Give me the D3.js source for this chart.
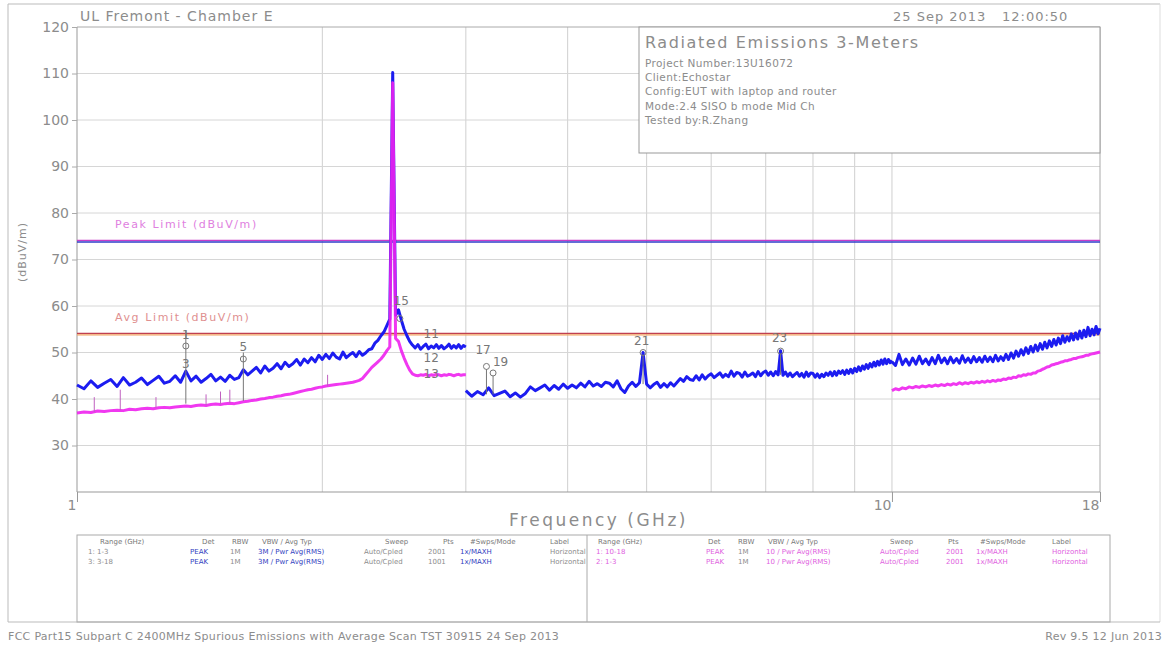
<!DOCTYPE html>
<html><head><meta charset="utf-8">
<script src="https://cdn.jsdelivr.net/npm/d3@7"></script>
<style>
body{margin:0;background:#fff;}
svg text{font-family:"DejaVu Sans",sans-serif;}
</style></head><body>
<svg id="c" width="1167" height="647"></svg>
<script>
// ---------------- data ----------------
const yTicks = [30,40,50,60,70,80,90,100,110,120];
const xTicks = [1,10,18];
const xGrid = [2,3,4,5,6,7,8,9,10];
const peakLimit = 74, avgLimit = 54;

// sweep 1: 1-3 GHz, 0.02 GHz per point
const seg1Start = 1.0, seg1Step = 0.02;
const peak1 = [
43.0,42.2,43.9,42.5,43.4,44.2,42.7,44.6,43.0,43.6,
44.5,43.1,44.0,44.9,43.4,43.8,45.0,43.6,46.0,43.9,
44.9,43.6,44.4,45.3,43.9,44.7,43.8,45.1,44.2,44.6,
46.3,45.2,46.0,46.8,45.6,47.1,46.0,46.6,47.6,46.5,
47.9,47.0,47.6,48.5,47.3,48.6,47.8,48.9,48.0,49.4,
48.5,49.6,48.7,49.9,49.0,48.6,50.1,48.9,49.5,50.0,
49.1,50.2,49.4,49.9,50.6,50.8,52.0,52.6,53.6,54.4,
55.8,57.2,110.2,58.0,59.2,57.0,55.0,53.6,52.4,51.6,
51.0,51.7,50.7,51.3,51.8,50.8,51.4,51.0,51.7,50.9,
51.5,50.8,51.2,51.8,50.9,51.5,51.0,51.7,50.9,51.5,
51.2];
const avg1 = [
37.0,37.2,37.1,37.4,37.3,37.5,37.6,37.5,37.8,37.7,
37.9,38.0,37.9,38.1,38.2,38.1,38.3,38.4,38.5,38.4,
38.6,38.7,38.6,38.8,38.9,38.8,39.0,39.1,39.0,39.2,
39.4,39.5,39.7,39.8,40.0,40.1,40.3,40.4,40.6,40.7,
40.9,41.0,41.2,41.4,41.6,41.8,42.0,42.1,42.3,42.5,
42.6,42.8,42.9,43.0,43.1,43.2,43.3,43.4,43.5,43.6,
43.8,44.0,44.4,45.2,46.0,46.8,47.4,48.0,48.6,49.4,
50.4,51.2,108.0,53.0,52.4,50.4,48.8,47.4,46.2,45.4,
45.1,45.0,45.2,45.1,45.3,45.0,45.2,45.1,45.3,45.2,
45.0,45.2,45.1,45.3,45.2,45.0,45.2,45.3,45.1,45.2,
45.2];

// sweep 2: 3-10 GHz, 0.05 GHz per point
const seg2Start = 3.0, seg2Step = 0.05;
const peak2 = [
41.8,40.6,41.6,40.9,42.4,40.7,41.2,41.7,40.5,41.3,
40.4,41.2,42.6,41.8,42.4,43.0,41.9,42.9,42.1,43.2,
42.3,43.0,42.4,43.4,42.6,43.8,42.8,43.3,42.7,43.6,
43.4,42.6,43.9,42.2,41.4,42.8,43.6,42.7,43.5,50.0,
43.2,42.4,43.1,43.6,42.5,43.3,42.6,43.5,42.8,43.6,
44.4,43.8,44.8,44.2,44.0,45.0,44.1,45.2,44.3,45.0,
45.4,44.6,45.1,45.6,44.7,45.3,44.8,46.0,44.9,45.7,
45.5,44.7,45.8,44.9,45.2,45.6,44.8,45.9,45.0,45.7,
46.0,45.1,45.8,45.0,45.9,45.2,50.4,45.1,45.8,44.9,
45.6,44.8,45.3,45.7,44.9,45.5,44.7,45.8,44.9,45.6,
45.5,44.7,45.4,44.6,45.3,44.8,45.6,45.1,45.8,45.0,
45.9,45.1,46.0,45.5,46.1,45.3,46.2,45.5,46.4,45.6,
46.6,45.9,46.9,46.1,47.1,46.4,47.4,46.6,47.6,46.9,
47.9,47.1,48.1,47.3,48.4,47.5,48.6,47.6,48.5,47.8,
48.3];

// sweep 3: 10-18 GHz, 0.1 GHz per point
const seg3Start = 10.0, seg3Step = 0.1;
const peak3 = [
48.0,47.2,49.6,47.4,48.6,47.3,48.8,47.5,49.2,47.6,
48.6,47.4,48.9,47.6,49.4,47.8,48.8,47.6,49.0,47.8,
48.7,47.7,49.3,47.9,48.8,47.8,49.1,48.0,48.9,47.9,
49.2,48.1,49.0,48.0,49.4,48.2,49.1,48.3,49.6,48.5,
49.9,48.8,50.3,49.2,50.6,49.5,51.0,49.8,51.3,50.1,
51.6,50.4,51.9,50.7,52.2,51.0,52.5,51.3,52.8,51.6,
53.1,51.9,53.6,52.2,53.4,52.5,54.0,52.7,54.2,52.9,
54.6,53.1,54.8,53.4,55.4,53.6,55.0,53.8,55.6,54.0,
55.2];
const avg3 = [
41.8,42.2,42.0,42.4,42.2,42.6,42.4,42.7,42.5,42.8,
42.6,42.9,42.7,43.0,42.8,43.1,42.9,43.2,43.0,43.3,
43.1,43.5,43.2,43.5,43.3,43.6,43.4,43.7,43.5,43.8,
43.6,43.9,43.7,44.0,43.8,44.1,44.0,44.3,44.2,44.5,
44.4,44.7,44.6,45.0,44.9,45.2,45.1,45.4,45.3,45.6,
45.6,46.0,46.1,46.4,46.6,46.9,47.0,47.3,47.4,47.6,
47.7,47.9,48.0,48.2,48.2,48.4,48.5,48.7,48.7,48.9,
49.0,49.1,49.2,49.4,49.4,49.6,49.7,49.8,49.9,50.0,
50.1];

// narrow spurs on the average trace (freq, base, top)
const avgSpikeFreq = [1.05,1.13,1.25,1.44,1.50,1.54,2.03];
const avgSpikeBase = [37.2,37.6,38.1,38.6,38.8,39.1,42.7];
const avgSpikeTop  = [40.4,42.0,40.4,41.0,41.6,42.0,45.2];

// marker labels
const markerText  = ["1","3","5","15","11","12","13","17","19","21","23"];
const markerFreq  = [1.36,1.36,1.60,2.50,2.72,2.72,2.72,3.15,3.31,4.93,7.28];
const markerLevel = [54.0,47.8,51.5,61.3,54.3,49.0,45.6,50.8,48.2,52.6,53.3];
// marker symbols
const symFreq  = [1.36,1.60,2.49,3.18,3.24,4.95,7.30];
const symLevel = [51.4,48.6,57.3,47.0,45.6,50.0,50.3];
// marker drop lines (freq, top, bottom)
const mlFreq = [1.36,1.60,3.18,3.24,4.95,7.30];
const mlTop  = [54.7,50.0,46.4,45.0,49.5,49.7];
const mlBot  = [39.0,39.6,41.0,41.0,43.2,45.2];

// texts
const headerLeft = "UL Fremont - Chamber E";
const headerDate = "25 Sep 2013";
const headerTime = "12:00:50";
const titleMain = "Radiated Emissions 3-Meters";
const titleLines = ["Project Number:13U16072","Client:Echostar","Config:EUT with laptop and router","Mode:2.4 SISO b mode Mid Ch","Tested by:R.Zhang"];
const xLabel = "Frequency (GHz)";
const yLabel = "(dBuV/m)";
const peakLimitLabel = "Peak Limit (dBuV/m)";
const avgLimitLabel = "Avg Limit (dBuV/m)";
const tableHeaders = ["Range (GHz)","Det","RBW","VBW / Avg Typ","Sweep","Pts","#Swps/Mode","Label"];
const tableLeftRows = [
  ["1: 1-3","PEAK","1M","3M / Pwr Avg(RMS)","Auto/Cpled","2001","1x/MAXH","Horizontal"],
  ["3: 3-18","PEAK","1M","3M / Pwr Avg(RMS)","Auto/Cpled","1001","1x/MAXH","Horizontal"]];
const tableRightRows = [
  ["1: 10-18","PEAK","1M","10 / Pwr Avg(RMS)","Auto/Cpled","2001","1x/MAXH","Horizontal"],
  ["2: 1-3","PEAK","1M","10 / Pwr Avg(RMS)","Auto/Cpled","2001","1x/MAXH","Horizontal"]];
const footerLeft = "FCC Part15 Subpart C 2400MHz Spurious Emissions with Average Scan TST 30915 24 Sep 2013";
const footerRight = "Rev 9.5 12 Jun 2013";

// ---------------- drawing ----------------
const svg = d3.select("#c");
const L = 77, R = 1100, T = 27, B = 492;
const x = d3.scaleLog().domain([1,18]).range([L,R]);
const y = d3.scaleLinear().domain([20,120]).range([B,T]);
const grey = "#8c8c8c";

function sweep(start, step, vals){ return vals.map((v,i)=>[start+step*i, v]); }

// outer frame
svg.append("line").attr("x1",8).attr("x2",1160).attr("y1",4).attr("y2",4).attr("stroke","#bbb");
svg.append("line").attr("x1",8).attr("x2",8).attr("y1",4).attr("y2",622).attr("stroke","#bbb");
svg.append("line").attr("x1",1160).attr("x2",1160).attr("y1",4).attr("y2",622).attr("stroke","#ddd");
svg.append("line").attr("x1",8).attr("x2",1160).attr("y1",622).attr("y2",622).attr("stroke","#bbb");

// grid
svg.append("g").selectAll("line").data(xGrid).join("line")
  .attr("x1",d=>x(d)).attr("x2",d=>x(d)).attr("y1",T).attr("y2",B)
  .attr("stroke","#cfcfcf");
svg.append("g").selectAll("line").data(yTicks.filter(d=>d<120)).join("line")
  .attr("x1",L).attr("x2",R).attr("y1",d=>y(d)).attr("y2",d=>y(d))
  .attr("stroke","#d6d6d6");
svg.append("line").attr("x1",L).attr("x2",R).attr("y1",T).attr("y2",T).attr("stroke","#aaa");
svg.append("line").attr("x1",R).attr("x2",R).attr("y1",T).attr("y2",B).attr("stroke","#aaa");

// y axis
const ya = svg.append("g").attr("transform",`translate(${L},0)`)
  .call(d3.axisLeft(y).tickValues(yTicks).tickSize(5).tickPadding(3).tickFormat(d3.format("d")));
ya.select(".domain").attr("stroke","#999").attr("d",`M0,${T}V${B}`);
ya.selectAll(".tick line").attr("stroke","#aaa");
ya.selectAll("text").attr("fill",grey).attr("font-size",14).attr("font-family","DejaVu Sans");

// x axis
const xa = svg.append("g").attr("transform",`translate(0,${B})`)
  .call(d3.axisBottom(x).tickValues(xTicks).tickSize(10).tickPadding(-2).tickFormat(d3.format("d")));
xa.select(".domain").attr("stroke","#999").attr("d",`M${L},0H${R}`);
xa.selectAll(".tick line").attr("stroke","#999");
xa.selectAll("text").attr("fill",grey).attr("font-size",14).attr("font-family","DejaVu Sans")
  .attr("text-anchor","end").attr("dx","-1");

// axis labels
svg.append("text").attr("x",(L+R)/2 + 10).attr("y",526).attr("text-anchor","middle")
  .attr("fill",grey).attr("font-size",17).attr("letter-spacing",2.5).text(xLabel);
svg.append("text").attr("transform","translate(26,252) rotate(-90)").attr("text-anchor","middle")
  .attr("fill",grey).attr("font-size",11).attr("letter-spacing",1).text(yLabel);

// header
svg.append("text").attr("x",80).attr("y",21).attr("fill",grey).attr("font-size",14).attr("letter-spacing",1).text(headerLeft);
svg.append("text").attr("x",893).attr("y",21).attr("fill",grey).attr("font-size",13).attr("letter-spacing",1).text(headerDate);
svg.append("text").attr("x",1002).attr("y",21).attr("fill",grey).attr("font-size",13).attr("letter-spacing",1).text(headerTime);

// title box
svg.append("rect").attr("x",639).attr("y",T).attr("width",R-639).attr("height",126)
  .attr("fill","#fff").attr("stroke","#999");
svg.append("text").attr("x",645).attr("y",48).attr("fill",grey).attr("font-size",16).attr("letter-spacing",1.6).text(titleMain);
svg.append("g").selectAll("text").data(titleLines).join("text")
  .attr("x",645).attr("y",(d,i)=>67+i*14.2).attr("fill",grey).attr("font-size",10.5).attr("letter-spacing",0.4).text(d=>d);

// limit lines
svg.append("line").attr("x1",L).attr("x2",R).attr("y1",y(peakLimit)+1).attr("y2",y(peakLimit)+1).attr("stroke","#2f3cc8").attr("stroke-width",1.5);
svg.append("line").attr("x1",L).attr("x2",R).attr("y1",y(peakLimit)-0.5).attr("y2",y(peakLimit)-0.5).attr("stroke","#c83cc8").attr("stroke-width",1.2);
svg.append("line").attr("x1",L).attr("x2",R).attr("y1",y(avgLimit)+1).attr("y2",y(avgLimit)+1).attr("stroke","#f0a060").attr("stroke-width",1.2);
svg.append("line").attr("x1",L).attr("x2",R).attr("y1",y(avgLimit)-0.5).attr("y2",y(avgLimit)-0.5).attr("stroke","#c04050").attr("stroke-width",1.4);
svg.append("text").attr("x",115).attr("y",y(peakLimit)-13).attr("fill","#e080e0").attr("font-size",11).attr("letter-spacing",1.6).text(peakLimitLabel);
svg.append("text").attr("x",115).attr("y",y(avgLimit)-13).attr("fill","#e09090").attr("font-size",11).attr("letter-spacing",1.6).text(avgLimitLabel);

// traces
const line = d3.line().x(d=>x(d[0])).y(d=>y(d[1]));
const mag = "#ee22ee", blu = "#1c1cf0";
[sweep(seg1Start,seg1Step,peak1), sweep(seg2Start,seg2Step,peak2), sweep(seg3Start,seg3Step,peak3)].forEach(s=>{
  svg.append("path").attr("d",line(s)).attr("fill","none").attr("stroke",blu).attr("stroke-width",3).attr("stroke-linejoin","round");
});
[sweep(seg1Start,seg1Step,avg1), sweep(seg3Start,seg3Step,avg3)].forEach(s=>{
  svg.append("path").attr("d",line(s)).attr("fill","none").attr("stroke",mag).attr("stroke-width",3).attr("stroke-linejoin","round").attr("opacity",0.9);
});
svg.append("g").selectAll("line").data(avgSpikeFreq).join("line")
  .attr("x1",d=>x(d)).attr("x2",d=>x(d)).attr("y1",(d,i)=>y(avgSpikeBase[i])).attr("y2",(d,i)=>y(avgSpikeTop[i]))
  .attr("stroke","#c060c0").attr("stroke-width",1);

// markers
svg.append("g").selectAll("line").data(mlFreq).join("line")
  .attr("x1",d=>x(d)).attr("x2",d=>x(d)).attr("y1",(d,i)=>y(mlTop[i])).attr("y2",(d,i)=>y(mlBot[i]))
  .attr("stroke","#777").attr("stroke-width",1);
svg.append("g").selectAll("circle").data(symFreq).join("circle")
  .attr("cx",d=>x(d)).attr("cy",(d,i)=>y(symLevel[i])).attr("r",3)
  .attr("fill","none").attr("stroke","#777").attr("stroke-width",1);
svg.append("g").selectAll("text").data(markerText).join("text")
  .attr("x",(d,i)=>x(markerFreq[i])).attr("y",(d,i)=>y(markerLevel[i])+5)
  .attr("text-anchor","middle").attr("fill","#777").attr("font-size",12).text(d=>d);

// settings table
const tT = 535, tB = 622, tL = 77, tM = 587, tR = 1110;
svg.append("rect").attr("x",tL).attr("y",tT).attr("width",tR-tL).attr("height",tB-tT).attr("fill","none").attr("stroke","#aaa");
svg.append("line").attr("x1",tM).attr("x2",tM).attr("y1",tT).attr("y2",tB).attr("stroke","#aaa");
const leftCols = [100,202,232,262,385,443,470,550];
const rightCols = [598,708,738,768,890,948,980,1052];
const leftRowCols = [88,190,230,258,364,428,460,550];
const rightRowCols = [596,706,738,766,880,946,976,1052];
const leftColors = [grey,"#3040c0",grey,"#3040c0",grey,grey,"#3040c0",grey];
const rightColors = ["#e060e0","#e060e0",grey,"#e060e0","#e060e0","#e060e0","#e060e0","#e060e0"];
function table(cols, rowCols, rows, colors){
  svg.append("g").selectAll("text").data(tableHeaders).join("text")
    .attr("x",(d,i)=>cols[i]).attr("y",tT+9).attr("fill","#777").attr("font-size",7).text(d=>d);
  rows.forEach((r,ri)=>{
    svg.append("g").selectAll("text").data(r).join("text")
      .attr("x",(d,i)=>rowCols[i]).attr("y",tT+19+ri*9.5).attr("fill",(d,i)=>colors[i]).attr("font-size",7).text(d=>d);
  });
}
table(leftCols, leftRowCols, tableLeftRows, leftColors);
table(rightCols, rightRowCols, tableRightRows, rightColors);

// footer
svg.append("text").attr("x",8).attr("y",640).attr("fill",grey).attr("font-size",11).attr("letter-spacing",0.3).text(footerLeft);
svg.append("text").attr("x",1162).attr("y",640).attr("text-anchor","end").attr("fill",grey).attr("font-size",11).attr("letter-spacing",0.3).text(footerRight);
</script>
</body></html>
